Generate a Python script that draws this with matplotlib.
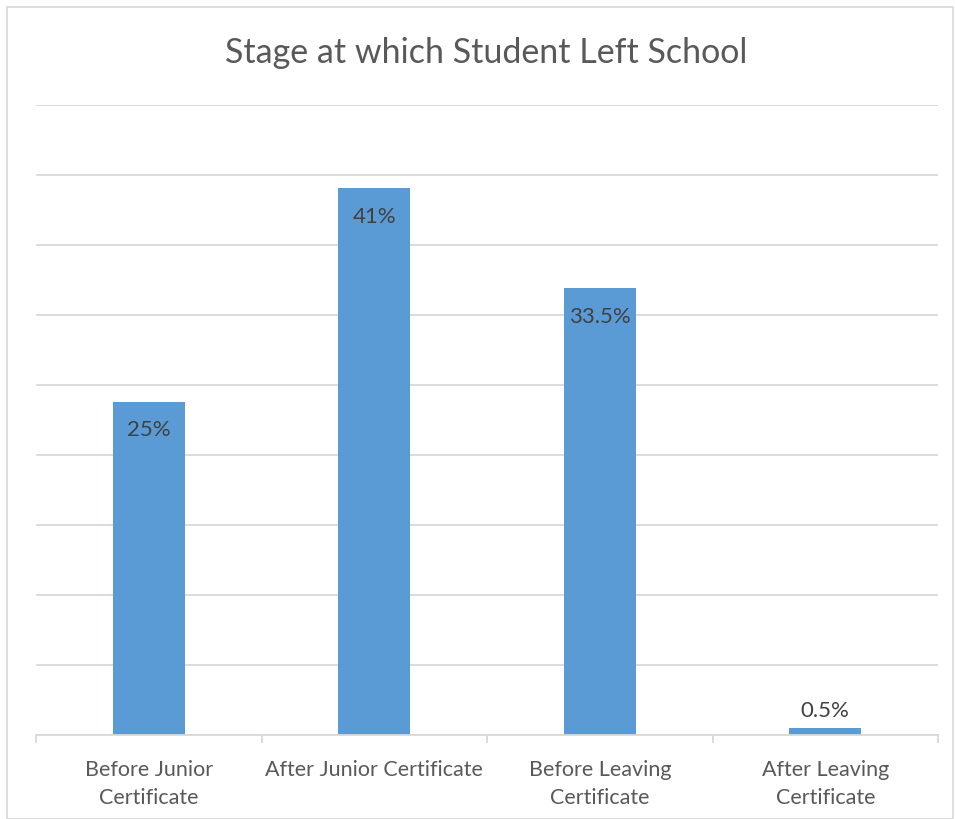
import matplotlib
matplotlib.use("Agg")
import matplotlib.pyplot as plt
from matplotlib.patches import Rectangle
import numpy as np

categories = ["Before Junior\nCertificate", "After Junior Certificate",
              "Before Leaving\nCertificate", "After Leaving\nCertificate"]
values = [25, 41, 33.5, 0.5]
labels = ["25%", "41%", "33.5%", "0.5%"]
title = "Stage at which Student Left School"

plt.rcParams['font.family'] = ['Lato', 'DejaVu Sans']

W, H = 955, 820
fig = plt.figure(figsize=(W/100, H/100), dpi=100)
fig.patches.append(Rectangle((7/W, 0), (W-9)/W, 1-8/H, transform=fig.transFigure,
                             fill=False, edgecolor="#d9d9d9", linewidth=1.2))

ax = fig.add_axes([36/W, 1-736/H, (938-36)/W, (736-106)/H])
step = 5.25
ymax = step * 9
x = np.arange(len(categories))
bars = ax.bar(x, values, width=0.32, color="#5b9bd5", zorder=3)
ax.set_xlim(-0.5, len(categories) - 0.5)
ax.set_ylim(0, ymax)
ax.set_yticks(np.arange(0, ymax + 0.01, step))
ax.yaxis.grid(True, color="#d9d9d9", linewidth=1.3, zorder=0)
ax.tick_params(axis='y', left=False, labelleft=False)
for s in ["top", "right", "left"]:
    ax.spines[s].set_visible(False)
ax.spines["bottom"].set_color("#d9d9d9")
ax.spines["bottom"].set_linewidth(1.3)
ax.spines["bottom"].set_zorder(4)

ax.set_xticks(np.arange(-0.5, len(categories), 1.0))
ax.set_xticklabels([])
ax.tick_params(axis='x', which='major', length=6, color="#d9d9d9", width=1.3)
ax.set_xticks(x, minor=True)
ax.set_xticklabels(categories, minor=True, fontsize=15.5, color="#595959", linespacing=1.55)
ax.tick_params(axis='x', which='minor', length=0, pad=17)

for xi, v, lab in zip(x, values, labels):
    if v / ymax * 630 > 30:
        ax.annotate(lab, (xi, v), xytext=(0, -20), textcoords="offset points",
                    ha="center", va="center", fontsize=16, color="#404040", zorder=5)
    else:
        ax.annotate(lab, (xi, v), xytext=(0, 13), textcoords="offset points",
                    ha="center", va="center", fontsize=16, color="#404040", zorder=5)

fig.text(486/W, 1 - 53/H, title, ha="center", va="center", fontsize=24.5, color="#595959")

fig.savefig("out.png", dpi=100)
